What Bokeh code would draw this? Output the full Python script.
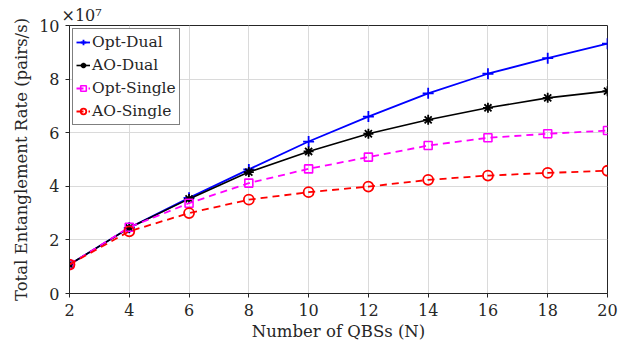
from bokeh.plotting import figure
from bokeh.models import Range1d, FixedTicker, Legend
from bokeh.embed import file_html
from bokeh.resources import INLINE

# Data (rates in units of 1e7 pairs/s)
n_qbs = [2, 4, 6, 8, 10, 12, 14, 16, 18, 20]
opt_dual = [1.08, 2.45, 3.57, 4.63, 5.67, 6.60, 7.47, 8.20, 8.78, 9.32]
ao_dual = [1.08, 2.45, 3.53, 4.53, 5.30, 5.96, 6.48, 6.93, 7.30, 7.55]
opt_single = [1.08, 2.47, 3.37, 4.12, 4.65, 5.09, 5.52, 5.81, 5.96, 6.08]
ao_single = [1.08, 2.32, 3.00, 3.50, 3.78, 3.99, 4.24, 4.40, 4.50, 4.58]
x_ticks = [2, 4, 6, 8, 10, 12, 14, 16, 18, 20]
y_ticks = [0, 2, 4, 6, 8, 10]
multiplier_text = "×10⁷"

FONT = "DejaVu Serif"
AX = "#262626"

p = figure(width=638, height=353, output_backend="svg", toolbar_location=None,
           x_range=Range1d(2, 20), y_range=Range1d(0, 10),
           min_border_left=69, min_border_right=31, min_border_top=25, min_border_bottom=60,
           background_fill_color="white", border_fill_color="white")

p.outline_line_color = AX
p.outline_line_width = 1

for ax in (p.xaxis[0], p.yaxis[0]):
    ax.major_tick_out = 4
    ax.major_tick_in = 0
    ax.minor_tick_out = 0
    ax.minor_tick_in = 0
    ax.axis_line_color = AX
    ax.major_tick_line_color = AX
    ax.major_label_text_font = FONT
    ax.major_label_text_font_size = "16px"
    ax.major_label_text_color = AX
    ax.axis_label_text_font = FONT
    ax.axis_label_text_font_size = "16.5px"
    ax.axis_label_text_font_style = "normal"
    ax.axis_label_text_color = AX

p.xaxis[0].ticker = FixedTicker(ticks=x_ticks)
p.yaxis[0].ticker = FixedTicker(ticks=y_ticks)
p.xaxis[0].axis_label = "Number of QBSs (N)"
p.yaxis[0].axis_label = "Total Entanglement Rate (pairs/s)"
p.xaxis[0].major_label_standoff = 6
p.yaxis[0].major_label_standoff = 6
p.xaxis[0].axis_label_standoff = 3
p.yaxis[0].axis_label_standoff = 5

p.title.text = multiplier_text
p.title.align = "left"
p.title.offset = -8
p.title.standoff = 2
p.title.text_font = FONT
p.title.text_font_size = "16px"
p.title.text_font_style = "normal"
p.title.text_color = AX

p.xgrid.ticker = FixedTicker(ticks=x_ticks)
p.ygrid.ticker = FixedTicker(ticks=y_ticks)
p.grid.grid_line_color = "#dadada"
p.grid.grid_line_width = 1

items = []
l1 = p.line(n_qbs, opt_dual, line_color="#0000ff", line_width=1.8)
m1 = p.scatter(n_qbs, opt_dual, marker="cross", size=11, line_color="#0000ff", line_width=1.8)
items.append(("Opt-Dual", [l1, m1]))
l2 = p.line(n_qbs, ao_dual, line_color="black", line_width=1.6)
m2 = p.scatter(n_qbs, ao_dual, marker="asterisk", size=10, line_color="black", line_width=1.8)
items.append(("AO-Dual", [l2, m2]))
l3 = p.line(n_qbs, opt_single, line_color="#ff00ff", line_width=1.8, line_dash="7 5")
m3 = p.scatter(n_qbs, opt_single, marker="square", size=8, line_color="#ff00ff", fill_color=None, line_width=1.6)
items.append(("Opt-Single", [l3, m3]))
l4 = p.line(n_qbs, ao_single, line_color="#ff0000", line_width=1.8, line_dash="7 5")
m4 = p.scatter(n_qbs, ao_single, marker="circle", size=10, line_color="#ff0000", fill_color=None, line_width=1.8)
items.append(("AO-Single", [l4, m4]))

legend = Legend(items=items, location="top_left")
legend.margin = 3
legend.padding = 3
legend.spacing = 3
legend.label_height = 20
legend.glyph_height = 20
legend.glyph_width = 14
legend.label_standoff = 2
legend.label_text_font = FONT
legend.label_text_font_size = "15.5px"
legend.label_text_color = AX
legend.border_line_color = "black"
legend.border_line_width = 1
legend.background_fill_alpha = 1
p.add_layout(legend)

open("out.html", "w").write(file_html(p, INLINE))
